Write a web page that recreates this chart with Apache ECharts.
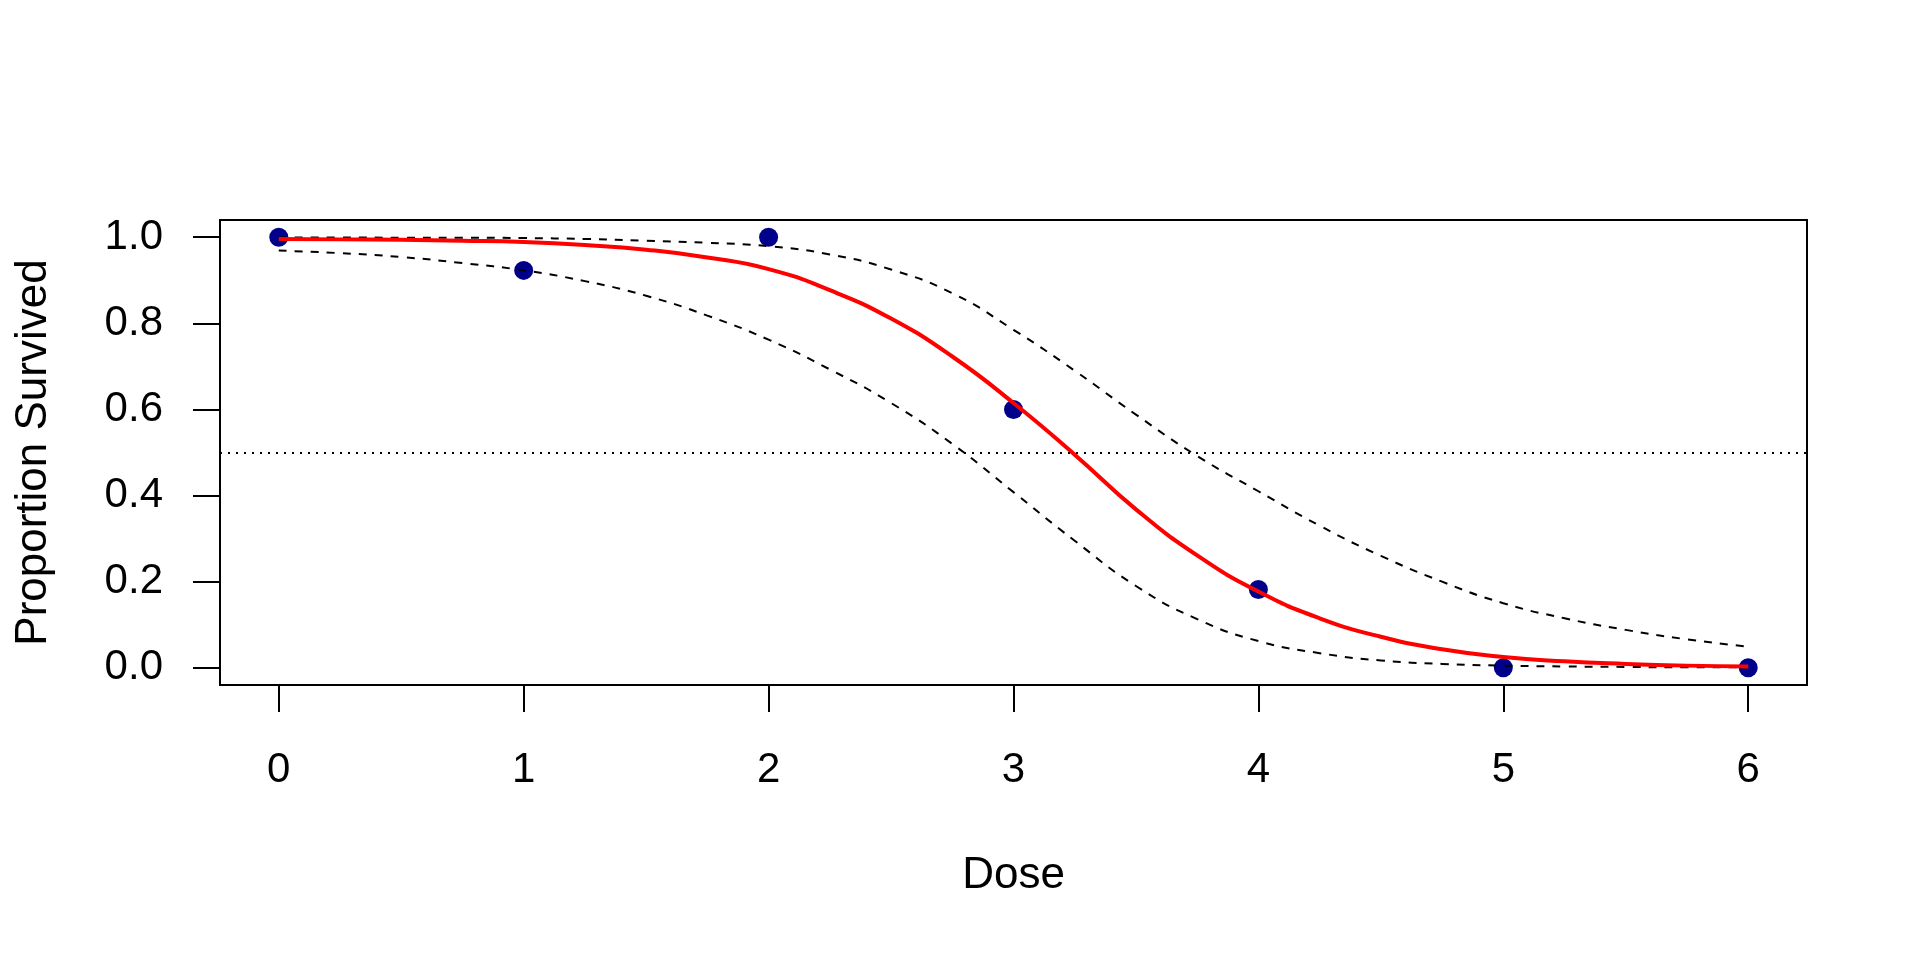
<!DOCTYPE html>
<html>
<head>
<meta charset="utf-8">
<script src="https://cdn.jsdelivr.net/npm/echarts@6/dist/echarts.min.js"></script>
<style>
html,body{margin:0;padding:0;background:#fff;}
#c{width:1920px;height:960px;}
</style>
</head>
<body>
<div id="c"></div>
<script>
// Observed data
const doseObs = [0, 1, 2, 3, 4, 5, 6];
const propSurvived = [1.0, 0.923, 1.0, 0.6, 0.182, 0.0, 0.0];

// Curve values
const doseGrid = [0, 0.25, 0.5, 0.75, 1, 1.25, 1.5, 1.75, 2, 2.25, 2.5, 2.75, 3, 3.25, 3.5, 3.75, 4, 4.25, 4.5, 4.75, 5, 5.25, 5.5, 5.75, 6];
const fitted = [0.996, 0.995, 0.994, 0.992, 0.989, 0.982, 0.971, 0.953, 0.926, 0.877, 0.811, 0.723, 0.615, 0.495, 0.368, 0.261, 0.177, 0.115, 0.072, 0.043, 0.025, 0.015, 0.009, 0.005, 0.003];
const upperCI = [0.9995, 0.9993, 0.999, 0.999, 0.998, 0.996, 0.992, 0.987, 0.979, 0.96, 0.925, 0.87, 0.785, 0.69, 0.588, 0.492, 0.41, 0.33, 0.26, 0.2, 0.15, 0.115, 0.088, 0.066, 0.049];
const lowerCI = [0.969, 0.963, 0.954, 0.94, 0.923, 0.898, 0.864, 0.818, 0.762, 0.693, 0.615, 0.52, 0.408, 0.295, 0.19, 0.113, 0.062, 0.034, 0.017, 0.009, 0.005, 0.003, 0.002, 0.001, 0.001];
const refLevel = 0.5;

// Axis ticks
const xTickValues = [0, 1, 2, 3, 4, 5, 6];
const yTickValues = [0, 0.2, 0.4, 0.6, 0.8, 1.0];
const xRange = [-0.24, 6.24];
const yRange = [-0.04, 1.04];

const pair = (xs, ys) => xs.map((x, i) => [x, ys[i]]);
const FONT = '"Liberation Sans", Arial, sans-serif';

const chart = echarts.init(document.getElementById('c'), null, {renderer: 'canvas'});
chart.setOption({
  animation: false,
  backgroundColor: '#ffffff',
  grid: {left: 220, top: 220, width: 1587, height: 465, show: true, borderColor: '#000', borderWidth: 2, backgroundColor: 'transparent'},
  xAxis: {type: 'value', min: xRange[0], max: xRange[1], position: 'bottom',
    axisLine: {show: false, onZero: false}, splitLine: {show: false},
    axisTick: {show: true, inside: false, length: 27, customValues: xTickValues, lineStyle: {color: '#000', width: 2}},
    axisLabel: {fontSize: 42, color: '#000', fontFamily: FONT, margin: 64, customValues: xTickValues}},
  yAxis: {type: 'value', min: yRange[0], max: yRange[1], position: 'left',
    axisLine: {show: false, onZero: false}, splitLine: {show: false},
    axisTick: {show: true, inside: false, length: 27, customValues: yTickValues, lineStyle: {color: '#000', width: 2}},
    axisLabel: {fontSize: 42, color: '#000', fontFamily: FONT, margin: 57, customValues: yTickValues, formatter: v => v.toFixed(1)}},
  graphic: [
    {type: 'text', x: 1013.5, y: 876, style: {text: 'Dose', font: '44px ' + FONT, fill: '#000', textAlign: 'center', textVerticalAlign: 'middle'}},
    {type: 'text', x: 34, y: 452.5, rotation: Math.PI / 2, style: {text: 'Proportion Survived', font: '44px ' + FONT, fill: '#000', textAlign: 'center', textVerticalAlign: 'middle'}}
  ],
  series: [
    {type: 'scatter', data: pair(doseObs, propSurvived), symbol: 'circle', symbolSize: 19,
     itemStyle: {color: '#00008B', opacity: 1}, z: 1, silent: true},
    {type: 'line', data: pair(doseGrid, upperCI), showSymbol: false, smooth: true,
     lineStyle: {color: '#000', width: 2, type: [8, 8]}, z: 3, silent: true,
     markLine: {silent: true, symbol: 'none', label: {show: false},
       lineStyle: {color: '#000', width: 2, type: [2, 6]}, data: [{yAxis: refLevel}]}},
    {type: 'line', data: pair(doseGrid, lowerCI), showSymbol: false, smooth: true,
     lineStyle: {color: '#000', width: 2, type: [8, 8]}, z: 3, silent: true},
    {type: 'line', data: pair(doseGrid, fitted), showSymbol: false, smooth: true,
     lineStyle: {color: '#FF0000', width: 4}, z: 4, silent: true}
  ]
});
</script>
</body>
</html>
